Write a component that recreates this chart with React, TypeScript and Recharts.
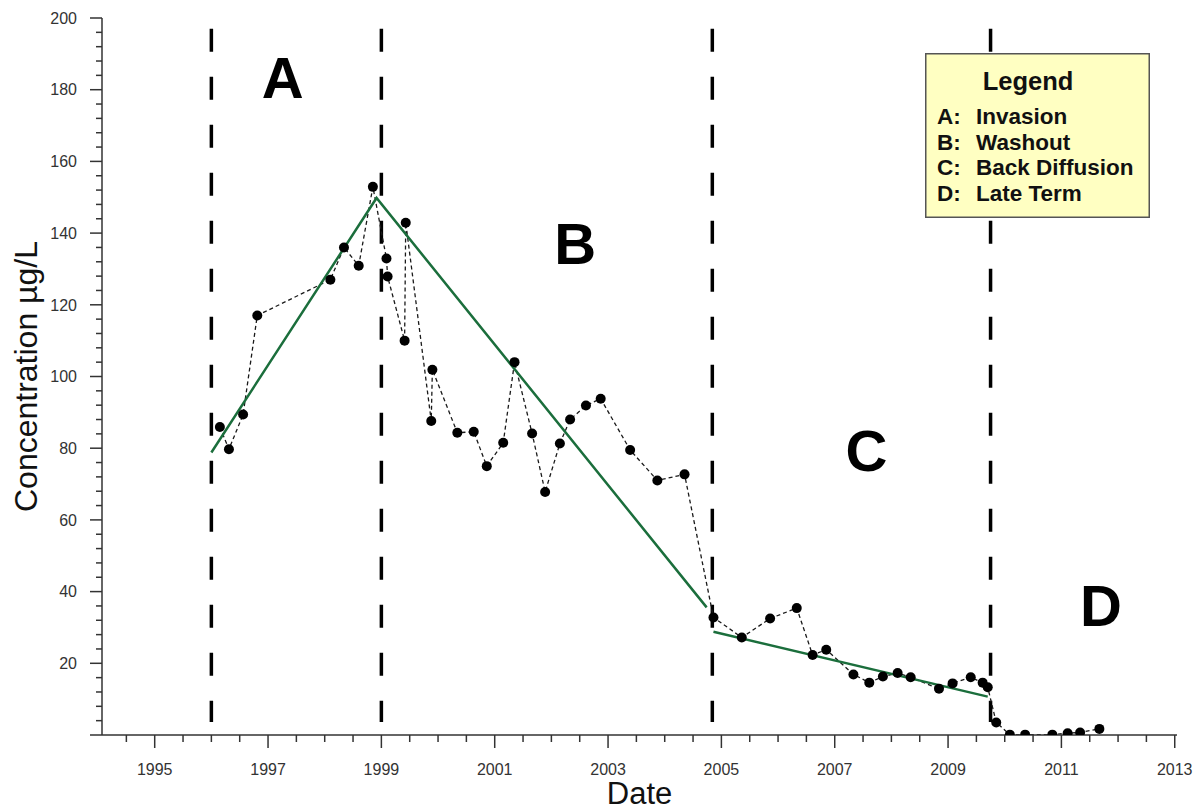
import { ComposedChart, Line, XAxis, YAxis, ReferenceLine, ReferenceDot, Legend } from 'recharts';

// sampled concentrations (decimal year, µg/L)
const sampleDates = [
  1996.15, 1996.31, 1996.56, 1996.81, 1998.1, 1998.34, 1998.6, 1998.85, 1999.09, 1999.11, 1999.41, 1999.43,
  1999.88, 1999.9, 2000.34, 2000.63, 2000.86, 2001.15, 2001.35, 2001.66, 2001.89, 2002.15, 2002.33, 2002.61,
  2002.87, 2003.39, 2003.87, 2004.35, 2004.86, 2005.36, 2005.86, 2006.33, 2006.61, 2006.85, 2007.33, 2007.61,
  2007.85, 2008.11, 2008.34, 2008.84, 2009.08, 2009.4, 2009.61, 2009.7, 2009.85, 2010.09, 2010.36, 2010.84,
  2011.11, 2011.33, 2011.67,
];
const sampleConc = [
  85.9, 79.7, 89.4, 117.0, 127.0, 136.0, 130.9, 152.9, 132.9, 127.9, 110.0, 142.9,
  87.6, 101.9, 84.3, 84.6, 75.0, 81.5, 104.0, 84.1, 67.8, 81.3, 88.0, 91.9,
  93.8, 79.5, 71.0, 72.7, 32.8, 27.2, 32.5, 35.4, 22.3, 23.8, 16.9, 14.6,
  16.3, 17.3, 16.1, 12.9, 14.4, 16.1, 14.6, 13.3, 3.5, 0.1, 0.1, 0.1,
  0.5, 0.7, 1.7,
];

// fitted trend lines
const trendAbDates = [1996.0, 1998.915, 2004.74];
const trendAbConc = [78.8, 149.8, 35.6];
const trendCDates = [2004.86, 2009.7];
const trendCConc = [28.8, 10.7];

// phase boundaries and labels
const phaseBounds = [1996.0, 1999.0, 2004.84, 2009.75];
const phaseLetters = ['A', 'B', 'C', 'D'];
const phaseLabelX = [1997.26, 2002.42, 2007.56, 2011.7];
const phaseLabelY = [183.3, 137.0, 79.4, 36.2];
const phaseNames = ['Invasion', 'Washout', 'Back Diffusion', 'Late Term'];

const xTicks = [
  1994.5, 1995, 1995.5, 1996, 1996.5, 1997, 1997.5, 1998, 1998.5, 1999, 1999.5, 2000, 2000.5, 2001, 2001.5,
  2002, 2002.5, 2003, 2003.5, 2004, 2004.5, 2005, 2005.5, 2006, 2006.5, 2007, 2007.5, 2008, 2008.5, 2009,
  2009.5, 2010, 2010.5, 2011, 2011.5, 2012, 2012.5, 2013,
];
const yTicks = [
  0, 4, 8, 12, 16, 20, 24, 28, 32, 36, 40, 44, 48, 52, 56, 60, 64, 68, 72, 76, 80, 84, 88, 92, 96, 100,
  104, 108, 112, 116, 120, 124, 128, 132, 136, 140, 144, 148, 152, 156, 160, 164, 168, 172, 176, 180,
  184, 188, 192, 196, 200,
];

const samples = sampleDates.map((t, i) => ({ t, v: sampleConc[i] }));
const trendAb = trendAbDates.map((t, i) => ({ t, v: trendAbConc[i] }));
const trendC = trendCDates.map((t, i) => ({ t, v: trendCConc[i] }));

const FONT = 'Arial, "Liberation Sans", sans-serif';
const AXIS = '#333';
const GREEN = '#1b6e3c';

const isMajorX = (v: number) => Number.isInteger(v) && Math.abs(v % 2) === 1;
const isMajorY = (v: number) => v % 20 === 0;

const BottomTick = ({ x, y, payload }: any) => {
  const major = isMajorX(payload.value);
  return (
    <g>
      <line x1={x} x2={x} y1={y} y2={y + (major ? 13 : 7)} stroke={AXIS} strokeWidth={1.5} />
      {major && (
        <text x={x} y={y + 40} textAnchor='middle' fontSize={16} fill='#333' fontFamily={FONT}>
          {payload.value}
        </text>
      )}
    </g>
  );
};

const TopTick = ({ x, y, payload }: any) => {
  const major = isMajorX(payload.value);
  return <line x1={x} x2={x} y1={y} y2={y + (major ? 12 : 7)} stroke={AXIS} strokeWidth={1.5} />;
};

const LeftTick = ({ x, y, payload }: any) => {
  const major = isMajorY(payload.value);
  return (
    <g>
      <line x1={x - (major ? 12 : 6)} x2={x} y1={y} y2={y} stroke={AXIS} strokeWidth={1.5} />
      {major && payload.value !== 0 && (
        <text x={x - 25} y={y} dy='0.36em' textAnchor='end' fontSize={16} fill='#333' fontFamily={FONT}>
          {payload.value}
        </text>
      )}
    </g>
  );
};

const RightTick = ({ x, y, payload }: any) => {
  const major = isMajorY(payload.value);
  return <line x1={x - (major ? 12 : 7)} x2={x} y1={y} y2={y} stroke={AXIS} strokeWidth={1.5} />;
};

const renderPhaseLegend = () => (
  <svg width={225} height={165} style={{ display: 'block' }}>
    <rect x={0.75} y={0.75} width={223.5} height={163.5} fill='#ffffc2' stroke='#555' strokeWidth={1.5} />
    <text x={103} y={37} textAnchor='middle' fontSize={25.5} fontWeight={700} fontFamily={FONT} fill='#111'>
      Legend
    </text>
    {phaseNames.map((name, i) => (
      <g key={name} fontSize={22.5} fontWeight={700} fontFamily={FONT} fill='#111'>
        <text x={12} y={71 + i * 25.7}>{phaseLetters[i]}:</text>
        <text x={51} y={71 + i * 25.7}>{name}</text>
      </g>
    ))}
  </svg>
);

export default function App() {
  return (
    <div style={{ position: 'absolute', left: 0, top: 0, width: 1196, height: 811, background: '#fff' }}>
      <ComposedChart width={1196} height={811} data={samples} margin={{ top: 18, right: 19, bottom: 26, left: 42 }}>
        <XAxis
          dataKey='t'
          type='number'
          domain={[1994.07, 2013.04]}
          allowDataOverflow
          ticks={xTicks}
          interval={0}
          height={50}
          tickSize={0}
          tickMargin={0}
          tickLine={false}
          axisLine={{ stroke: AXIS, strokeWidth: 1.5 }}
          tick={<BottomTick />}
          label={{
            value: 'Date',
            content: ({ viewBox }: any) => (
              <text x={viewBox.x + viewBox.width / 2} y={804} textAnchor='middle' fontSize={31} fill='#111' fontFamily={FONT}>
                Date
              </text>
            ),
          }}
        />
        <XAxis
          xAxisId='top'
          orientation='top'
          dataKey='t'
          type='number'
          domain={[1994.07, 2013.04]}
          allowDataOverflow
          ticks={xTicks}
          interval={0}
          height={0}
          tickSize={0}
          tickMargin={0}
          tickLine={false}
          axisLine={{ stroke: AXIS, strokeWidth: 1.5 }}
          tick={<TopTick />}
        />
        <YAxis
          type='number'
          domain={[0, 200]}
          allowDataOverflow
          ticks={yTicks}
          interval={0}
          width={60}
          tickSize={0}
          tickMargin={0}
          tickLine={false}
          axisLine={{ stroke: AXIS, strokeWidth: 1.5 }}
          tick={<LeftTick />}
          label={{
            value: 'Concentration µg/L',
            content: ({ viewBox }: any) => {
              const cy = viewBox.y + viewBox.height / 2;
              return (
                <text x={37} y={cy} transform={`rotate(-90, 37, ${cy})`} textAnchor='middle' fontSize={32} fill='#111' fontFamily={FONT}>
                  Concentration µg/L
                </text>
              );
            },
          }}
        />
        <YAxis
          yAxisId='right'
          orientation='right'
          type='number'
          domain={[0, 200]}
          allowDataOverflow
          ticks={yTicks}
          interval={0}
          width={0}
          tickSize={0}
          tickMargin={0}
          tickLine={false}
          axisLine={{ stroke: AXIS, strokeWidth: 1.5 }}
          tick={<RightTick />}
        />

        {phaseBounds.map((b) => (
          <ReferenceLine
            key={b}
            segment={[
              { x: b, y: 197 },
              { x: b, y: 3.6 },
            ]}
            stroke='#000'
            strokeWidth={3.5}
            strokeDasharray='23 25'
          />
        ))}

        <Line
          dataKey='v'
          stroke='#1a1a1a'
          strokeWidth={1.3}
          strokeDasharray='4 3'
          dot={{ r: 5, fill: '#000', stroke: '#000', strokeWidth: 0 }}
          activeDot={false}
          isAnimationActive={false}
        />
        <Line data={trendAb} dataKey='v' stroke={GREEN} strokeWidth={2.5} dot={false} activeDot={false} isAnimationActive={false} />
        <Line data={trendC} dataKey='v' stroke={GREEN} strokeWidth={2.5} dot={false} activeDot={false} isAnimationActive={false} />

        {phaseLetters.map((letter, i) => (
          <ReferenceDot
            key={letter}
            x={phaseLabelX[i]}
            y={phaseLabelY[i]}
            r={0}
            fill='none'
            stroke='none'
            label={{ value: letter, position: 'center', fontSize: 58, fontWeight: 700, fill: '#000', fontFamily: FONT }}
          />
        ))}

        <Legend
          layout='vertical'
          align='center'
          verticalAlign='middle'
          content={renderPhaseLegend}
          wrapperStyle={{ left: 925, top: 53, width: 225, height: 165 }}
        />
      </ComposedChart>
    </div>
  );
}
